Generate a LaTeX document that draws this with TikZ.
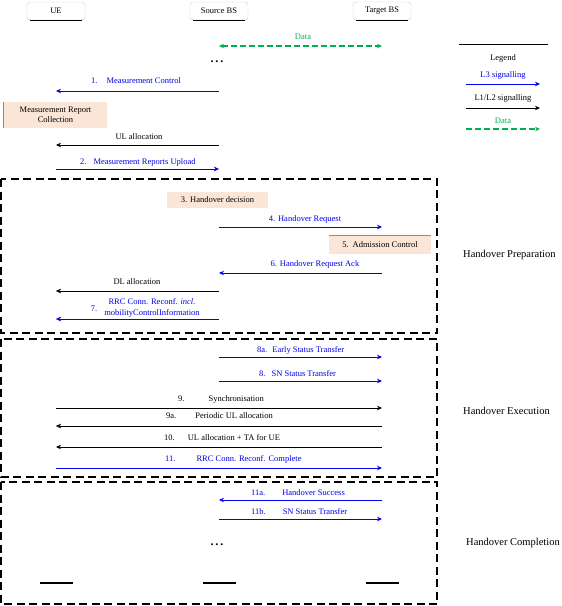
\documentclass[tikz,border=0pt]{standalone}
\usepackage{fontspec}
\setmainfont{Liberation Serif}
\usetikzlibrary{arrows.meta}
\definecolor{sigblue}{RGB}{0,0,235}
\definecolor{datagreen}{RGB}{0,176,80}
\definecolor{peach}{RGB}{251,229,214}
\tikzset{
  entity/.style={draw=black!20, rounded corners=3pt, minimum width=58pt, minimum height=18pt, inner sep=1pt, font=\fontsize{8.5}{10}\selectfont},
  msg/.style={font=\fontsize{8.5}{10.5}\selectfont, inner sep=0pt},
  actbox/.style={fill=peach, minimum width=101pt, minimum height=17pt, inner sep=1pt, align=center, font=\fontsize{8.5}{10}\selectfont},
  rrc/.style={draw=sigblue, line width=0.8pt, -{Stealth[length=5pt,width=4.5pt]}},
  mac/.style={draw=black, line width=0.8pt, -{Stealth[length=5pt,width=4.5pt]}},
  faint/.style={line width=0.25pt},
  fainter/.style={line width=0.1pt},
  datalink/.style={draw=datagreen, line width=1.3pt, dash pattern=on 6pt off 3pt, -{Stealth[length=5pt,width=4.5pt]}},
  phase/.style={draw, line width=1.2pt, dash pattern=on 8pt off 4.5pt},
  phaselabel/.style={font=\fontsize{10.5}{12}\selectfont, anchor=west, inner sep=0pt},
  endbar/.style={fill, minimum width=33pt, minimum height=2.5pt, inner sep=0pt},
  ellip/.style={font=\bfseries\fontsize{12}{12}\selectfont, inner sep=0pt},
}

\begin{document}
\begin{tikzpicture}[x=1pt,y=-1pt]
    \useasboundingbox (0,0) rectangle (562,606);

    \node[entity] (ue) at (56,11) {UE};
    \node[entity] (sbs) at (219,11) {Source BS};
    \node[entity] (tbs) at (382,11) {Target BS};
    \foreach \n in {ue,sbs,tbs}
        \draw[line width=1pt] ([xshift=3pt]\n.south west) -- ([xshift=-3pt]\n.south east);

    \node[msg, text=datagreen] (ldata) at (303,37) {Data};
    \draw[datalink, {Stealth[length=5pt,width=4.5pt]}-{Stealth[length=5pt,width=4.5pt]}] (sbs |- 0,46) -- (tbs |- 0,46);
    \node[ellip] (gap1) at (217,62) {.\hspace{2pt}.\hspace{2pt}.};

    \node[msg, text=sigblue, anchor=west] (l1) at (91,81) {1.\hspace{9pt}Measurement Control};
    \draw[rrc] (sbs |- 0,91) -- (ue |- 0,91);
    \node[actbox, minimum width=103pt, minimum height=26pt] (mrc) at (55.5,115) {Measurement Report\\Collection};
    \draw[black!45, line width=0.8pt] (mrc.north west) -- (mrc.south west);
    \node[msg] (lul) at (139,137) {UL allocation};
    \draw[mac] (sbs |- 0,145) -- (ue |- 0,145);
    \node[msg, text=sigblue, anchor=west] (l2) at (80,162) {2.\hspace{7pt}Measurement Reports Upload};
    \draw[rrc, faint] (ue |- 0,169) -- (sbs |- 0,169);

    \draw[phase] (1,179) rectangle (437,333);
    \node[phaselabel] (prep) at (463,255) {Handover Preparation};
    \node[actbox, minimum height=16pt] (hod) at (217.5,200) {3. Handover decision};
    \node[msg, text=sigblue] (l4) at (305,219) {4. Handover Request};
    \draw[rrc] (sbs |- 0,227) -- (tbs |- 0,227);
    \node[actbox, minimum width=102pt, minimum height=18pt] (adm) at (380,245) {5.\hspace{4pt}Admission Control};
    \draw[black!45, line width=0.8pt] (adm.north west) -- (adm.north east);
    \node[msg, text=sigblue] (l6) at (315,264) {6. Handover Request Ack};
    \draw[rrc] (tbs |- 0,273) -- (sbs |- 0,273);
    \node[msg] (ldl) at (137,282) {DL allocation};
    \draw[mac, fainter] (sbs |- 0,291) -- (ue |- 0,291);
    \node[msg, text=sigblue] (l7n) at (94,309) {7.};
    \node[msg, text=sigblue, align=center] (l7) at (152,308) {RRC Conn. Reconf. \textit{incl.}\\mobilityControlInformation};
    \draw[rrc, fainter] (sbs |- 0,319) -- (ue |- 0,319);

    \draw[phase] (1,339) rectangle (437,477);
    \node[phaselabel] (exec) at (463,411) {Handover Execution};
    \node[msg, text=sigblue, anchor=west] (l8a) at (257,350) {8a.\hspace{5pt}Early Status Transfer};
    \draw[rrc] (sbs |- 0,357) -- (tbs |- 0,357);
    \node[msg, text=sigblue, anchor=west] (l8) at (259,374) {8.\hspace{6pt}SN Status Transfer};
    \draw[rrc] (sbs |- 0,381) -- (tbs |- 0,381);
    \node[msg, anchor=west] (l9) at (178,399) {9.\hspace{24pt}Synchronisation};
    \draw[mac] (ue |- 0,408) -- (tbs |- 0,408);
    \node[msg, anchor=west] (l9a) at (166,416) {9a.\hspace{19pt}Periodic UL allocation};
    \draw[mac, fainter] (tbs |- 0,426) -- (ue |- 0,426);
    \node[msg, anchor=west] (l10) at (164,438) {10.\hspace{13pt}UL allocation + TA for UE};
    \draw[mac] (tbs |- 0,447) -- (ue |- 0,447);
    \node[msg, text=sigblue, anchor=west] (l11) at (165,459) {11.\hspace{21pt}RRC Conn. Reconf. Complete};
    \draw[rrc] (ue |- 0,468) -- (tbs |- 0,468);

    \draw[phase] (1,482) rectangle (437,604);
    \node[phaselabel] (compl) at (466,543) {Handover Completion};
    \node[msg, text=sigblue, anchor=west] (l11a) at (251,493) {11a.\hspace{17pt}Handover Success};
    \draw[rrc] (tbs |- 0,500) -- (sbs |- 0,500);
    \node[msg, text=sigblue, anchor=west] (l11b) at (251,512) {11b.\hspace{17pt}SN Status Transfer};
    \draw[rrc] (sbs |- 0,519) -- (tbs |- 0,519);
    \node[ellip] (gap2) at (217,545) {.\hspace{2pt}.\hspace{2pt}.};
    \foreach \n in {ue,sbs,tbs}
        \node[endbar] (\n-end) at (\n |- 0,583) {};

    \draw[line width=0.6pt] (459,44) -- (548,44);
    \node[msg] (leg) at (503,58) {Legend};
    \node[msg, text=sigblue] (legl3) at (503,75) {L3 signalling};
    \coordinate (l3a) at (466,84);
    \coordinate (l3b) at (540,84);
    \draw[rrc] (l3a) -- (l3b);
    \node[msg] (legl12) at (503,98) {L1/L2 signalling};
    \coordinate (l12a) at (466,108);
    \coordinate (l12b) at (540,108);
    \draw[mac] (l12a) -- (l12b);
    \node[msg, text=datagreen] (legdat) at (503,121) {Data};
    \coordinate (lda) at (466,129);
    \coordinate (ldb) at (540,129);
    \draw[datalink] (lda) -- (ldb);
\end{tikzpicture}
\end{document}
